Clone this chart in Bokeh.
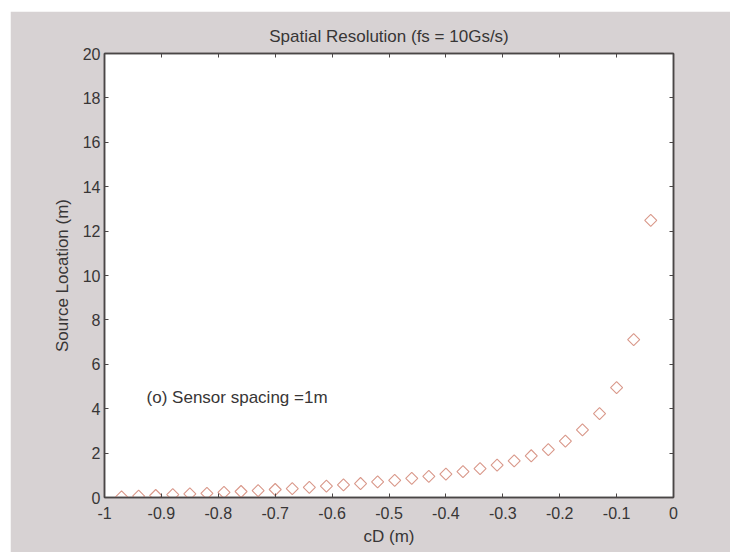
import numpy as np
from bokeh.plotting import figure
from bokeh.models import Range1d, LinearAxis, FixedTicker, ColumnDataSource
from bokeh.core.properties import value
from bokeh.embed import file_html
from bokeh.resources import INLINE

# ---- data ----
cd_m = [-0.97, -0.94, -0.91, -0.88, -0.85, -0.82, -0.79, -0.76, -0.73, -0.70,
        -0.67, -0.64, -0.61, -0.58, -0.55, -0.52, -0.49, -0.46, -0.43, -0.40,
        -0.37, -0.34, -0.31, -0.28, -0.25, -0.22, -0.19, -0.16, -0.13, -0.10,
        -0.07, -0.04]
source_location_m = [0.03, 0.06, 0.09, 0.13, 0.16, 0.19, 0.23, 0.27, 0.31, 0.36,
                     0.40, 0.46, 0.51, 0.57, 0.63, 0.70, 0.77, 0.86, 0.95, 1.05,
                     1.17, 1.30, 1.46, 1.65, 1.88, 2.16, 2.54, 3.05, 3.78, 4.95,
                     7.11, 12.48]
x_ticks = [-1, -0.9, -0.8, -0.7, -0.6, -0.5, -0.4, -0.3, -0.2, -0.1, 0]
x_tick_labels = ["-1", "-0.9", "-0.8", "-0.7", "-0.6", "-0.5", "-0.4", "-0.3", "-0.2", "-0.1", "0"]
y_ticks = [0, 2, 4, 6, 8, 10, 12, 14, 16, 18, 20]
title_text = "Spatial Resolution (fs = 10Gs/s)"
x_label = "cD (m)"
y_label = "Source Location (m)"
note_text = "(o) Sensor spacing =1m"

FONT = "Liberation Sans"
TXT = "#383636"
AX = "#4a4646"
BG = "#d7d2d3"

p = figure(width=720, height=541, output_backend="svg", toolbar_location=None,
           x_range=Range1d(-1, 0), y_range=Range1d(0, 20),
           min_border_left=94, min_border_right=57, min_border_top=42,
           min_border_bottom=55, border_fill_color=BG, background_fill_color="white",
           title=title_text)
p.margin = (11, 0, 0, 10)
p.title.align = "center"
p.title.text_font = FONT
p.title.text_font_size = "17px"
p.title.text_font_style = "normal"
p.title.text_color = TXT
p.title.standoff = 16

p.grid.visible = False
p.outline_line_color = AX
p.outline_line_width = 1.5

bottom = p.below[0]
left = p.left[0]
bottom.ticker = FixedTicker(ticks=x_ticks)
bottom.major_label_overrides = {t: l for t, l in zip(x_ticks, x_tick_labels)}
bottom.axis_label = x_label
bottom.major_label_standoff = 9
bottom.axis_label_standoff = 5
left.ticker = FixedTicker(ticks=y_ticks)
left.axis_label = y_label
left.major_label_standoff = 4
left.axis_label_standoff = 8

top = LinearAxis(ticker=FixedTicker(ticks=x_ticks))
right = LinearAxis(ticker=FixedTicker(ticks=y_ticks))
p.add_layout(top, "above")
p.add_layout(right, "right")

for ax in [bottom, left, top, right]:
    ax.axis_line_color = AX
    ax.axis_line_width = 1.5
    ax.major_tick_line_color = AX
    ax.major_tick_in = 4
    ax.major_tick_out = 0
    ax.minor_tick_line_color = None
    ax.major_label_text_font = FONT
    ax.major_label_text_color = TXT
    ax.major_label_text_font_size = "16px"
    ax.axis_label_text_font = FONT
    ax.axis_label_text_font_style = "normal"
    ax.axis_label_text_color = TXT
    ax.axis_label_text_font_size = "17px"

for ax in [top, right]:
    ax.major_label_text_font_size = "1px"
    ax.major_label_text_color = None
    ax.major_label_standoff = 0

src = ColumnDataSource(dict(x=cd_m, y=source_location_m))
p.scatter("x", "y", source=src, marker="square", angle=np.pi / 4, size=8.5,
          fill_color=None, line_color="#d9988a", line_width=1.1)

p.text(x=[-0.926], y=[4.5], text=[note_text], text_font=value(FONT),
       text_font_size="17px", text_color=TXT, text_baseline="middle", text_align="left")

open("out.html", "w").write(file_html(p, INLINE))
